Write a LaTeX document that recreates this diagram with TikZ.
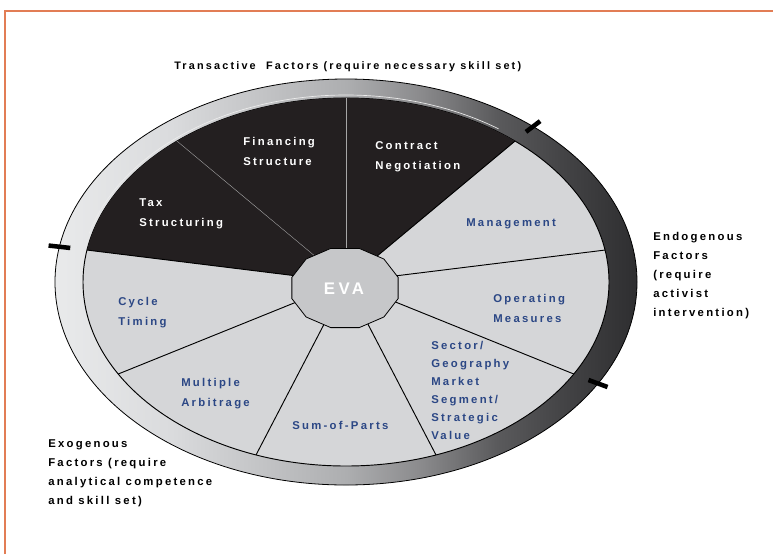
\documentclass[tikz,border=0pt]{standalone}
\usepackage{fontspec}
\setmainfont{Liberation Sans}
\newfontfamily\spaced{Liberation Sans}[LetterSpace=20]
\usepackage{tikz}
\usetikzlibrary{positioning}

\definecolor{frameorange}{HTML}{E27D55}
\definecolor{pielight}{HTML}{D5D6D8}
\definecolor{piedark}{HTML}{231F20}
\definecolor{evagray}{HTML}{C6C7C9}
\definecolor{labelblue}{HTML}{2B4785}
\definecolor{ringA}{HTML}{E9EAEB}
\definecolor{ringB}{HTML}{DADBDD}
\definecolor{ringC}{HTML}{ADAEB0}
\definecolor{ringD}{HTML}{8A8A8C}
\definecolor{ringE}{HTML}{5A5A5C}
\definecolor{ringF}{HTML}{444446}
\definecolor{ringG}{HTML}{2E2E30}

% the middle 50bp of the shading spans the ring
\pgfdeclarehorizontalshading{ringshade}{100bp}{color(0bp)=(ringA); color(25bp)=(ringA);
  color(35bp)=(ringB); color(50bp)=(ringC); color(56.5bp)=(ringD); color(63bp)=(ringE);
  color(68.5bp)=(ringF); color(75bp)=(ringG); color(100bp)=(ringG)}

\begin{document}
\begin{tikzpicture}[
      x=0.75pt, y=-0.75pt,
      every node/.style={inner sep=0pt, anchor=north west, align=left},
      txt/.style={font=\spaced\bfseries\fontsize{8.5}{15}\selectfont},
      inlabel/.style={txt, text=white},
      outlabel/.style={txt, text=labelblue},
      factor/.style={txt, text=black, font=\spaced\bfseries\fontsize{8.5}{14.3}\selectfont},
      spoke/.style={draw=black, line width=0.7pt},
      innerspoke/.style={draw=gray!70, line width=0.3pt},
      tick/.style={draw=black, line width=3.4pt},
      evacore/.style={draw=black, line width=0.6pt, fill=evagray}
    ]
    \useasboundingbox (0,0) rectangle (773,554);
    \draw[frameorange, line width=1.2pt] (5,554) -- (5,11) -- (773,11);

    \coordinate (ctr) at (346,282);

    % outer ring and wheel
    \path[shading=ringshade] (ctr) ellipse [x radius=291, y radius=203];
    \draw[line width=0.6pt] (ctr) ellipse [x radius=291, y radius=203];
    \filldraw[fill=pielight, line width=0.7pt] (ctr) ellipse [x radius=263, y radius=184];
    \fill[piedark] (ctr) -- ++(190:263 and 184)
      arc[start angle=190, end angle=310, x radius=263, y radius=184] -- cycle;
    % bevel line above the dark sectors
    \draw[white!85!gray, line width=0.5pt, shift={(ctr)}] (195:266 and 187)
      arc[start angle=195, end angle=305, x radius=266, y radius=187];

    % spokes
    \foreach \a in {310,350,...,550}
      \draw[spoke] (ctr) -- ++(\a:263 and 184);
    \foreach \a in {230,270}
      \draw[innerspoke] (ctr) -- ++(\a:263 and 184);

    % hub
    \filldraw[evacore] plot[samples at={15,45,...,345}, variable=\t]
      ({345+55*cos(\t)},{288+41*sin(\t)}) -- cycle;
    \node[anchor=center, text=white, font=\spaced\bfseries\fontsize{12.6}{14}\selectfont]
      (eva) at (344,289) {EVA};

    % group markers on the rim
    \foreach \a in {190,310,390}
      \draw[tick, shift={(ctr)}] (\a:280 and 196) -- (\a:302 and 210);

    % sector labels
    \node[inlabel]  (fin) at (243,137) {Financing\\Structure};
    \node[inlabel]  (con) at (375,141) {Contract\\Negotiation};
    \node[inlabel]  (tax) at (139,198) {Tax\\Structuring};
    \node[outlabel] (mgt) at (466,218) {Management};
    \node[outlabel] (ops) at (493,294) {Operating\\Measures};
    \node[outlabel, font=\spaced\bfseries\fontsize{8.5}{13.5}\selectfont]
      (sec) at (431,341) {Sector/\\Geography\\Market\\Segment/\\Strategic\\Value};
    \node[outlabel] (cyc) at (118,297) {Cycle\\Timing};
    \node[outlabel] (mul) at (181,378) {Multiple\\Arbitrage};
    \node[outlabel] (sum) at (292,421) {Sum-of-Parts};

    % factor groups
    \node[factor, font=\spaced\bfseries\fontsize{8.15}{14}\selectfont]
      (trans) at (174,61) {Transactive~~Factors (require necessary skill set)};
    \node[factor] (endo)  at (653,232) {Endogenous\\Factors\\(require\\activist\\intervention)};
    \node[factor] (exo)   at (48,439) {Exogenous\\Factors (require\\analytical competence\\and skill set)};
  \end{tikzpicture}
\end{document}
